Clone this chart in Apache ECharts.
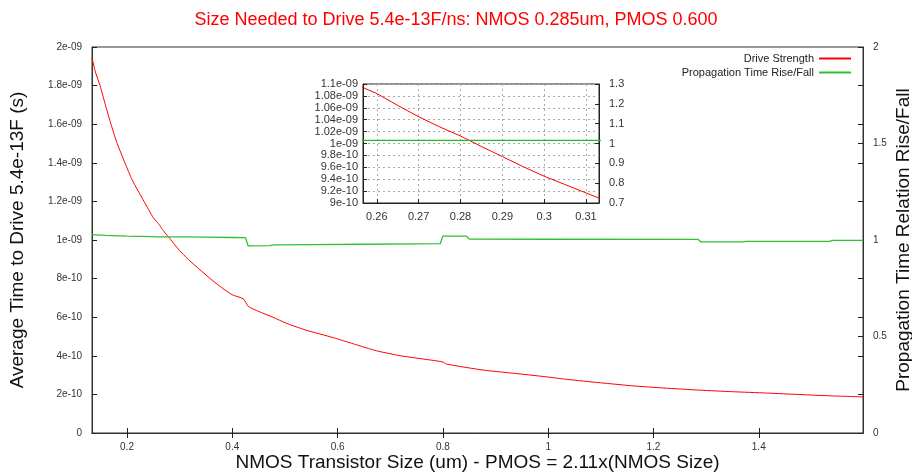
<!DOCTYPE html>
<html>
<head>
<meta charset="utf-8">
<script src="https://cdn.jsdelivr.net/npm/echarts@6/dist/echarts.min.js"></script>
<style>html,body{margin:0;padding:0;background:#fff}#c{width:912px;height:473px}</style>
</head>
<body>
<div id="c"></div>
<script>
// ---- data ----
const sizeX = [0.1335, 0.14, 0.1487, 0.16, 0.1696, 0.18, 0.196, 0.21, 0.2323, 0.25, 0.2567, 0.26, 0.265, 0.27, 0.275, 0.28, 0.285, 0.29, 0.295, 0.30, 0.305, 0.31, 0.3131, 0.33, 0.358, 0.38, 0.40, 0.421, 0.4304, 0.45, 0.477, 0.5033, 0.54, 0.592, 0.63, 0.674, 0.72, 0.7818, 0.80, 0.807, 0.8767, 0.9465, 1.0, 1.035, 1.10, 1.1617, 1.22, 1.288, 1.35, 1.415, 1.48, 1.5415, 1.598];
const driveStrength = [1.943e-9, 1.87e-9, 1.80e-9, 1.69e-9, 1.60e-9, 1.51e-9, 1.40e-9, 1.31e-9, 1.20e-9, 1.115e-9, 1.094e-9, 1.084e-9, 1.064e-9, 1.045e-9, 1.028e-9, 1.0126e-9, 0.995e-9, 0.978e-9, 0.961e-9, 0.945e-9, 0.931e-9, 0.917e-9, 0.908e-9, 0.866e-9, 0.80e-9, 0.753e-9, 0.716e-9, 0.695e-9, 0.656e-9, 0.630e-9, 0.600e-9, 0.568e-9, 0.533e-9, 0.494e-9, 0.462e-9, 0.426e-9, 0.40e-9, 0.376e-9, 0.368e-9, 0.357e-9, 0.326e-9, 0.306e-9, 0.290e-9, 0.278e-9, 0.260e-9, 0.244e-9, 0.233e-9, 0.222e-9, 0.214e-9, 0.207e-9, 0.199e-9, 0.192e-9, 0.187e-9];
const ratioX = [0.1335, 0.16, 0.20, 0.25, 0.2567, 0.3131, 0.35, 0.40, 0.425, 0.43, 0.47, 0.48, 0.55, 0.65, 0.75, 0.795, 0.80, 0.845, 0.85, 1.0, 1.285, 1.29, 1.37, 1.375, 1.535, 1.54, 1.598];
const riseFall = [1.028, 1.024, 1.020, 1.018, 1.016, 1.016, 1.015, 1.013, 1.012, 0.970, 0.971, 0.975, 0.976, 0.978, 0.980, 0.981, 1.020, 1.020, 1.005, 1.004, 1.003, 0.990, 0.990, 0.993, 0.993, 0.998, 0.998];

const xTicks = [0.2, 0.4, 0.6, 0.8, 1.0, 1.2, 1.4];
const yLeftTicks = [0, 2e-10, 4e-10, 6e-10, 8e-10, 1e-9, 1.2e-9, 1.4e-9, 1.6e-9, 1.8e-9, 2e-9];
const yRightLabels = [0, 0.5, 1, 1.5, 2];
const yRightTicks = [0, 0.2, 0.4, 0.5, 0.6, 0.8, 1, 1.2, 1.4, 1.5, 1.6, 1.8, 2];
const insetXTicks = [0.26, 0.27, 0.28, 0.29, 0.30, 0.31];
const insetYLeftTicks = [9e-10, 9.2e-10, 9.4e-10, 9.6e-10, 9.8e-10, 1e-9, 1.02e-9, 1.04e-9, 1.06e-9, 1.08e-9, 1.1e-9];
const insetYRightTicks = [0.7, 0.8, 0.9, 1.0, 1.1, 1.2, 1.3];

// ---- helpers ----
const FONT = '"Liberation Sans", Arial, sans-serif';
function gfmt(v) {
  if (Math.abs(v) < 1e-25) return '0';
  const s = v.toExponential(4).split('e');
  const m = parseFloat(s[0]).toString();
  const ei = parseInt(s[1], 10);
  const ea = Math.abs(ei);
  return m + 'e' + (ei < 0 ? '-' : '+') + (ea < 10 ? '0' : '') + ea;
}
const drivePairs = sizeX.map((x, i) => [x, driveStrength[i]]);
const ratioPairs = ratioX.map((x, i) => [x, riseFall[i]]);
const axisLine = {show: true, lineStyle: {color: '#333', width: 1}};
const tickStyle = {color: '#222', width: 1};
const labelSmall = {fontSize: 10, color: '#333', fontFamily: FONT};
const labelInset = {fontSize: 11, color: '#333', fontFamily: FONT};
const dotted = {show: true, lineStyle: {color: '#aaa', type: [2, 3], width: 1}};
const nameStyle = {fontSize: 19, color: '#111', fontFamily: FONT};

const chart = echarts.init(document.getElementById('c'), null, {renderer: 'canvas'});
chart.setOption({
  animation: false,
  backgroundColor: '#fff',
  title: {
    text: 'Size Needed to Drive 5.4e-13F/ns: NMOS 0.285um, PMOS 0.600',
    left: 'center', top: 6,
    textStyle: {color: '#ff0000', fontSize: 18, fontWeight: 'normal', fontFamily: FONT}
  },
  legend: [
    {data: ['Drive Strength'], right: 56, top: 48, align: 'right', icon: 'rect', itemWidth: 32, itemHeight: 2,
     textStyle: {fontSize: 11, color: '#222', fontFamily: FONT}, itemGap: 9},
    {data: ['Propagation Time Rise/Fall'], right: 56, top: 62, align: 'right', icon: 'rect', itemWidth: 32, itemHeight: 2,
     textStyle: {fontSize: 11, color: '#222', fontFamily: FONT}, itemGap: 9}
  ],
  grid: [
    {left: 92, right: 49, top: 47, bottom: 40, show: true, borderColor: '#333', borderWidth: 1,
     backgroundColor: 'transparent', outerBoundsMode: 'none', containLabel: false},
    {left: 363, top: 84, width: 236, height: 119, show: true, borderColor: '#222', borderWidth: 1,
     backgroundColor: '#fff', z: 10, outerBoundsMode: 'none', containLabel: false}
  ],
  xAxis: [
    {gridIndex: 0, type: 'value', min: 0.1335, max: 1.598, position: 'bottom',
     axisLine: axisLine, splitLine: {show: false},
     axisTick: {inside: true, length: 5, lineStyle: tickStyle, customValues: xTicks},
     axisLabel: Object.assign({customValues: xTicks, margin: 9}, labelSmall),
     name: 'NMOS Transistor Size (um) - PMOS = 2.11x(NMOS Size)', nameLocation: 'middle', nameGap: 20,
     nameMoveOverlap: false, nameTextStyle: Object.assign({verticalAlign: 'top'}, nameStyle)},
    {gridIndex: 0, type: 'value', min: 0.1335, max: 1.598, position: 'top',
     axisLine: axisLine, splitLine: {show: false},
     axisTick: {inside: true, length: 5, lineStyle: tickStyle, customValues: xTicks},
     axisLabel: {show: false}},
    {gridIndex: 1, type: 'value', min: 0.2567, max: 0.3131, position: 'bottom', z: 11,
     axisLine: {show: true, lineStyle: {color: '#222'}}, splitLine: dotted,
     axisTick: {inside: true, length: 4, lineStyle: tickStyle, customValues: insetXTicks},
     axisLabel: Object.assign({customValues: insetXTicks, margin: 8}, labelInset)}
  ],
  yAxis: [
    {gridIndex: 0, type: 'value', min: 0, max: 2e-9, position: 'left',
     axisLine: axisLine, splitLine: {show: false},
     axisTick: {inside: true, length: 5, lineStyle: tickStyle, customValues: yLeftTicks},
     axisLabel: Object.assign({customValues: yLeftTicks, formatter: gfmt, margin: 10}, labelSmall),
     name: 'Average Time to Drive 5.4e-13F (s)', nameLocation: 'middle', nameGap: 65, nameRotate: 90,
     nameMoveOverlap: false, nameTextStyle: nameStyle},
    {gridIndex: 0, type: 'value', min: 0, max: 2, position: 'right',
     axisLine: axisLine, splitLine: {show: false},
     axisTick: {inside: true, length: 5, lineStyle: tickStyle, customValues: yRightTicks},
     axisLabel: Object.assign({customValues: yRightLabels, margin: 10}, labelSmall),
     name: 'Propagation Time Relation Rise/Fall', nameLocation: 'middle', nameGap: 31, nameRotate: 90,
     nameMoveOverlap: false, nameTextStyle: nameStyle},
    {gridIndex: 1, type: 'value', min: 9e-10, max: 1.1e-9, position: 'left', z: 11,
     axisLine: {show: true, lineStyle: {color: '#222'}}, splitLine: dotted,
     axisTick: {inside: true, length: 4, lineStyle: tickStyle, customValues: insetYLeftTicks},
     axisLabel: Object.assign({customValues: insetYLeftTicks, formatter: gfmt, margin: 5}, labelInset)},
    {gridIndex: 1, type: 'value', min: 0.7, max: 1.3, position: 'right', z: 11,
     axisLine: {show: true, lineStyle: {color: '#222'}}, splitLine: {show: false},
     axisTick: {inside: true, length: 4, lineStyle: tickStyle, customValues: insetYRightTicks},
     axisLabel: Object.assign({customValues: insetYRightTicks, margin: 10}, labelInset)}
  ],
  series: [
    {name: 'Drive Strength', type: 'line', xAxisIndex: 0, yAxisIndex: 0, data: drivePairs,
     showSymbol: false, symbol: 'none', smooth: 0.2, lineStyle: {color: '#ff0000', width: 1}, itemStyle: {color: '#ff0000'}, z: 3},
    {name: 'Propagation Time Rise/Fall', type: 'line', xAxisIndex: 0, yAxisIndex: 1, data: ratioPairs,
     showSymbol: false, symbol: 'none', lineStyle: {color: '#30c030', width: 1.3}, itemStyle: {color: '#30c030'}, z: 3},
    {name: 'Drive Strength', type: 'line', xAxisIndex: 2, yAxisIndex: 2, data: drivePairs, clip: true,
     showSymbol: false, symbol: 'none', lineStyle: {color: '#ff0000', width: 1}, itemStyle: {color: '#ff0000'}, z: 12},
    {name: 'Propagation Time Rise/Fall', type: 'line', xAxisIndex: 2, yAxisIndex: 3, data: ratioPairs, clip: true,
     showSymbol: false, symbol: 'none', lineStyle: {color: '#20c020', width: 1.3}, itemStyle: {color: '#20c020'}, z: 12}
  ]
});
</script>
</body>
</html>
